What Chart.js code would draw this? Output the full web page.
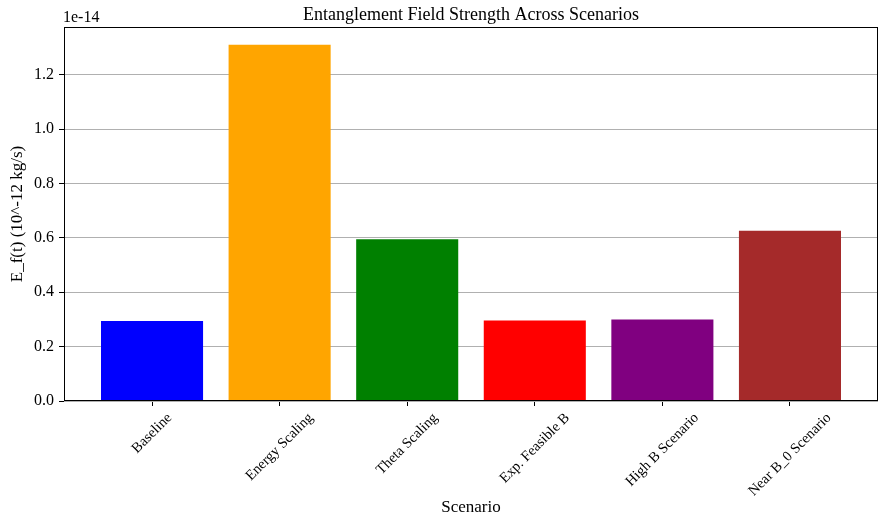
<!DOCTYPE html>
<html>
<head>
<meta charset="utf-8">
<script src="https://cdn.jsdelivr.net/npm/chart.js@4/dist/chart.umd.min.js"></script>
<style>
  html, body { margin: 0; padding: 0; background: #fff; }
  canvas { display: block; }
</style>
</head>
<body>
<canvas id="chart" width="882" height="518"></canvas>
<script>
// Scenario names along the x axis
const scenarios = ['Baseline', 'Energy Scaling', 'Theta Scaling', 'Exp. Feasible B', 'High B Scenario', 'Near B_0 Scenario'];
// E_f(t) for each scenario, expressed in units of 1e-14
const fieldStrength = [0.2948, 1.3106, 0.5947, 0.2960, 0.3000, 0.6260];
const barColors = ['blue', 'orange', 'green', 'red', 'purple', 'brown'];
// Y tick positions (same 1e-14 units)
const yTickValues = [0.0, 0.2, 0.4, 0.6, 0.8, 1.0, 1.2];
const offsetText = '1e-14';

const titleText = 'Entanglement Field Strength Across Scenarios';
const xTitle = 'Scenario';
const yTitle = 'E_f(t) (10^-12 kg/s)';

const FONT = '"Liberation Serif", "Times New Roman", Times, serif';
const TICK_SIZE = 16;
const CAT_SIZE = 14.5;
const LABEL_SIZE = 17;
const TITLE_SIZE = 18;

// Bars are 0.8 wide, centred on integer positions; 5% margin on each side
const barWidth = 0.8;
const span = (scenarios.length - 1) + barWidth;
const xMin = -barWidth / 2 - 0.05 * span;
const xMax = (scenarios.length - 1) + barWidth / 2 + 0.05 * span;
const yMax = Math.max(...fieldStrength) * 1.05;

const points = fieldStrength.map((v, i) => ({ x: i, y: v }));

// Frame, title, axis titles and rotated category labels
const decorations = {
  id: 'decorations',
  afterDraw(chart) {
    const { ctx, chartArea: a, scales: { x } } = chart;
    ctx.save();

    // full box around the plot area
    ctx.strokeStyle = '#000';
    ctx.lineWidth = 1;
    const l = Math.round(a.left) + 0.5, t = Math.round(a.top) + 0.5;
    const r = Math.round(a.right) - 0.5, b = Math.round(a.bottom) - 0.5;
    ctx.strokeRect(l, t, r - l, b - t);

    ctx.fillStyle = '#000';

    // rotated category labels, bounding box centred under each tick
    ctx.font = `${CAT_SIZE}px ${FONT}`;
    ctx.textAlign = 'center';
    ctx.textBaseline = 'middle';
    const c = Math.SQRT1_2;
    scenarios.forEach((s, i) => {
      const px = x.getPixelForValue(i);
      const w = ctx.measureText(s).width;
      const h = CAT_SIZE * 1.1;
      const boxH = (w + h) * c;
      const cy = a.bottom + 9 + boxH / 2;
      ctx.save();
      ctx.translate(px, cy);
      ctx.rotate(-Math.PI / 4);
      ctx.fillText(s, 0, 0);
      ctx.restore();
    });

    const cx = (a.left + a.right) / 2;

    // title
    ctx.font = `${TITLE_SIZE}px ${FONT}`;
    ctx.textAlign = 'center';
    ctx.textBaseline = 'alphabetic';
    ctx.fillText(titleText, cx, 20);

    // offset multiplier above the y axis
    ctx.font = `${TICK_SIZE}px ${FONT}`;
    ctx.textAlign = 'left';
    ctx.fillText(offsetText, a.left - 1, 22);

    // x axis title
    ctx.font = `${LABEL_SIZE}px ${FONT}`;
    ctx.textAlign = 'center';
    ctx.fillText(xTitle, cx, 512);

    // y axis title
    ctx.save();
    ctx.translate(18, (a.top + a.bottom) / 2);
    ctx.rotate(-Math.PI / 2);
    ctx.textBaseline = 'middle';
    ctx.fillText(yTitle, 0, 0);
    ctx.restore();

    ctx.restore();
  }
};

new Chart(document.getElementById('chart'), {
  type: 'bar',
  data: {
    datasets: [{
      data: points,
      backgroundColor: barColors,
      borderWidth: 0,
      barPercentage: barWidth,
      categoryPercentage: 1.0
    }]
  },
  options: {
    responsive: false,
    animation: false,
    devicePixelRatio: 1,
    layout: { padding: { left: 0, top: 27, right: 4, bottom: 0 } },
    plugins: {
      legend: { display: false },
      title: { display: false },
      tooltip: { enabled: false }
    },
    scales: {
      x: {
        type: 'linear',
        min: xMin,
        max: xMax,
        offset: false,
        afterBuildTicks: (scale) => { scale.ticks = scenarios.map((_, i) => ({ value: i })); },
        afterFit: (scale) => { scale.height = 117; },
        grid: {
          offset: false,
          drawOnChartArea: false,
          drawTicks: true,
          tickLength: 5,
          tickColor: '#000'
        },
        border: { display: false },
        ticks: { display: false, autoSkip: false }
      },
      y: {
        type: 'linear',
        min: 0,
        max: yMax,
        z: 1,
        afterBuildTicks: (scale) => { scale.ticks = yTickValues.map(v => ({ value: v })); },
        afterFit: (scale) => { scale.width = 64; },
        grid: {
          color: '#b0b0b0',
          lineWidth: 1,
          drawTicks: true,
          tickLength: 5,
          tickColor: '#000'
        },
        border: { display: false },
        ticks: {
          color: '#000',
          padding: 5,
          font: { family: FONT, size: TICK_SIZE },
          callback: (v) => Number(v).toFixed(1)
        }
      }
    }
  },
  plugins: [decorations]
});
</script>
</body>
</html>
